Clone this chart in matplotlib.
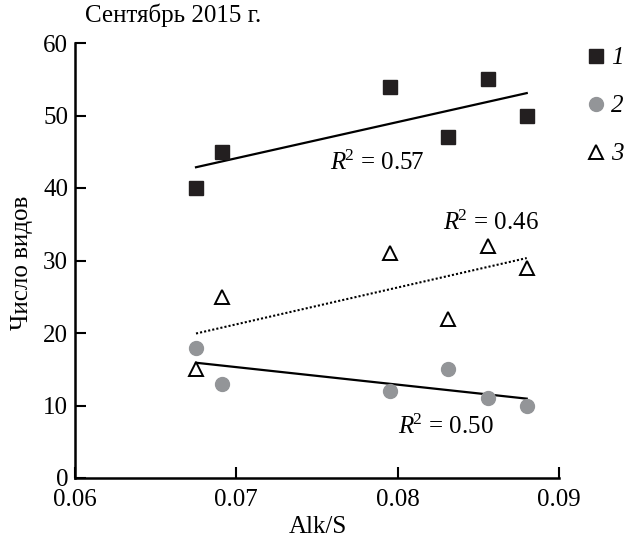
import numpy as np
import matplotlib
matplotlib.use('Agg')
import matplotlib.pyplot as plt

plt.rcParams['font.family'] = ['Liberation Serif', 'DejaVu Serif']
plt.rcParams['mathtext.fontset'] = 'custom'
plt.rcParams['mathtext.rm'] = 'Liberation Serif'
plt.rcParams['mathtext.it'] = 'Liberation Serif:italic'

# Alk/S values (same for all three series)
alk_s = [0.0675, 0.0691, 0.0795, 0.0831, 0.0856, 0.0880]
# number of species, series 1, 2, 3
series1 = [40, 45, 54, 47, 55, 50]
series2 = [18, 13, 12, 15, 11, 10]
series3 = [15, 25, 31, 22, 32, 29]
r2_labels = ['0.57', '0.50', '0.46']
legend_labels = ['1', '2', '3']

fig = plt.figure(figsize=(6.29, 5.42), dpi=100)
ax = fig.add_axes([75/629, 1-478/542, 484/629, 435/542])

x = np.asarray(alk_s)
xl = np.array([x.min(), x.max()])

h1, = ax.plot(x, series1, 's', color='#231f20', ms=10.5, ls='none', zorder=3)
h2, = ax.plot(x, series2, 'o', color='#939598', ms=10, ls='none', zorder=3)
h3, = ax.plot(x, series3, '^', mfc='white', mec='black', mew=1.4, ms=10, ls='none', zorder=3)

# linear trends
p1 = np.polyfit(x, series1, 1)
p2 = np.polyfit(x, series2, 1)
p3 = np.polyfit(x, series3, 1)
ax.plot(xl, np.polyval(p1, xl), color='black', lw=1.6, zorder=2)
ax.plot(xl, np.polyval(p2, xl), color='black', lw=1.6, zorder=2)
ax.plot(xl, np.polyval(p3, xl), color='black', lw=1.5, ls=(0, (1, 1)), zorder=2)

ax.text(0.0758, 43.4, r'$R^{\!2}$ = ' + r2_labels[0], fontsize=18, ha='left', va='center')
ax.text(0.0800, 7.0, r'$R^{\!2}$ = ' + r2_labels[1], fontsize=18, ha='left', va='center')
ax.text(0.0828, 35.2, r'$R^{\!2}$ = ' + r2_labels[2], fontsize=18, ha='left', va='center')

ax.set_xlim(0.06, 0.09)
ax.set_ylim(0, 60)
ax.set_xticks([0.06, 0.07, 0.08, 0.09])
ax.set_xticklabels(['0.06', '0.07', '0.08', '0.09'])
ax.set_yticks(range(0, 61, 10))
ax.tick_params(direction='in', length=8, width=1.5, labelsize=18, pad=5)
ax.tick_params(axis='x', pad=8)
ax.spines['top'].set_visible(False)
ax.spines['right'].set_visible(False)
ax.spines['left'].set_linewidth(1.8)
ax.spines['bottom'].set_linewidth(1.8)

leg = fig.legend([h1, h2, h3], legend_labels, loc='upper left',
                 bbox_to_anchor=(586/629, 1-47/542), frameon=False,
                 fontsize=18, handlelength=0.8, handletextpad=0.2,
                 labelspacing=1.02, borderaxespad=0, borderpad=0)
for t in leg.get_texts():
    t.set_fontstyle('italic')

fig.text(85/629, 1-15/542, 'Сентябрь 2015 г.', fontsize=18, ha='left', va='center')
fig.text(22/629, 1-263/542, 'Число видов', fontsize=18, rotation=90, ha='center', va='center')
fig.text(318/629, 1-527/542, 'Alk/S', fontsize=18, ha='center', va='center')

fig.savefig('out.png', dpi=100)
